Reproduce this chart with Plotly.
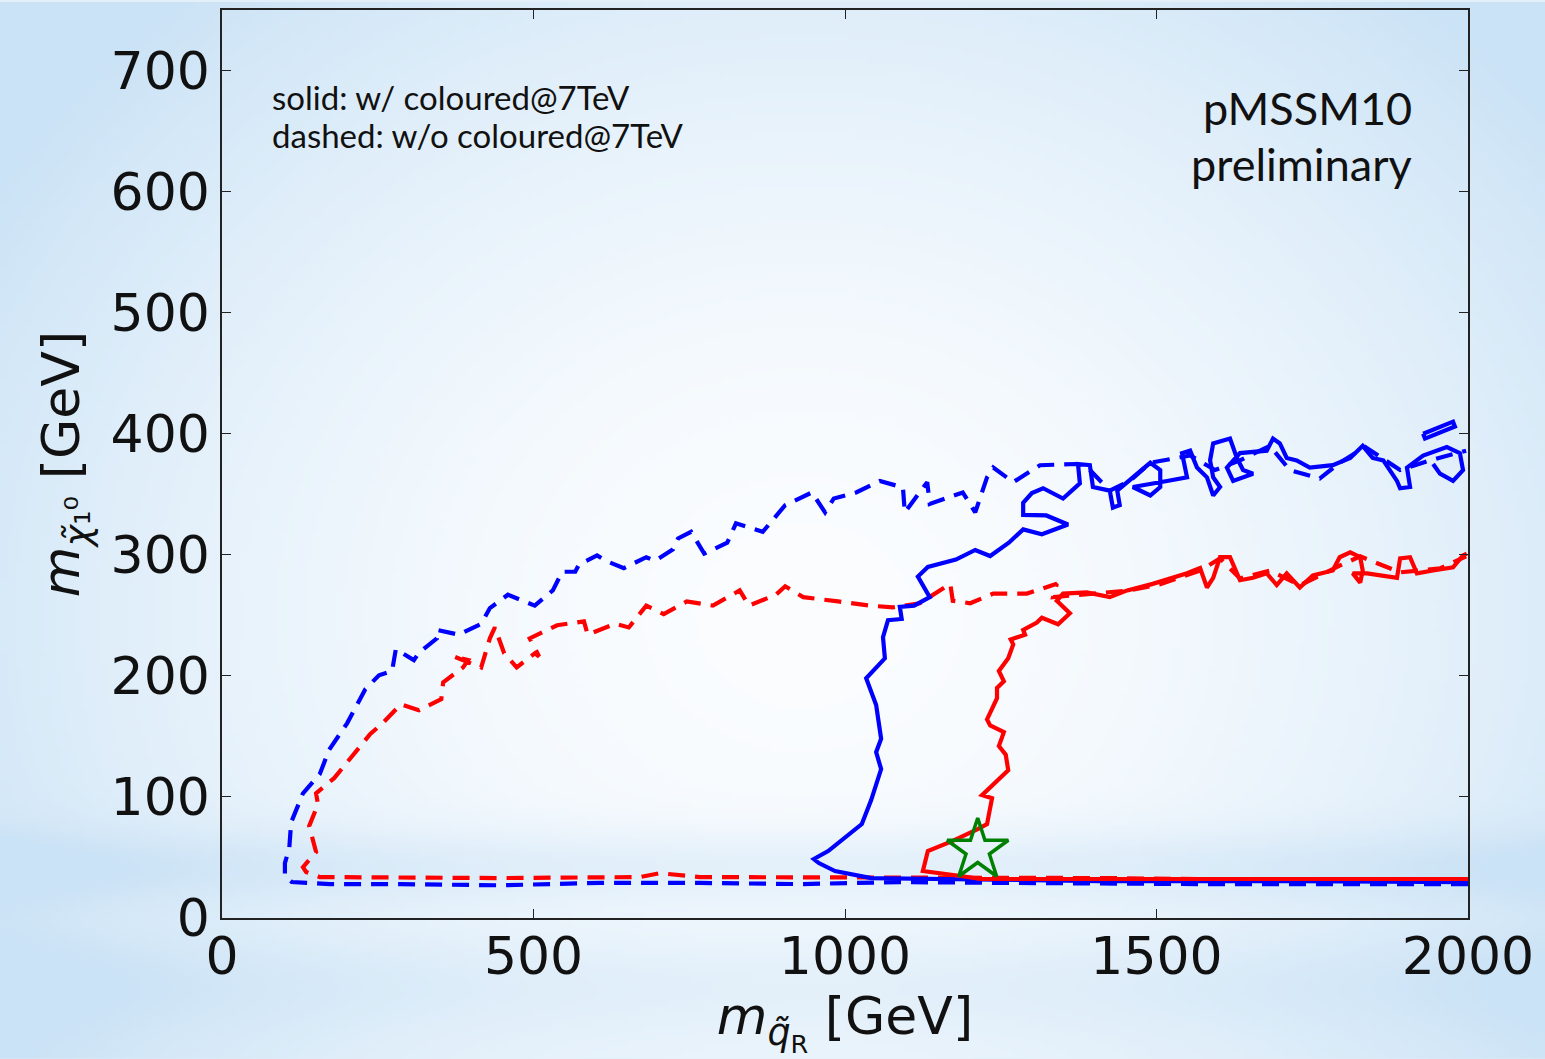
import base64, struct, zlib
import numpy as np
import plotly.graph_objects as go

# ---------------- data ----------------
blue_solid_x = [2000, 1730, 1409, 1249, 1120, 1042, 984, 958, 950, 973, 1027, 1042, 1058, 1050, 1058,
                1050, 1034, 1064, 1061, 1069, 1091, 1088, 1111, 1136, 1117, 1133, 1178, 1209, 1233, 1263,
                1286, 1316, 1358, 1323, 1286, 1286, 1300, 1318, 1350, 1377, 1374, 1393, 1398, 1425, 1430,
                1441, 1437, 1453, 1490, 1506, 1506, 1490, 1462, 1517, 1549, 1541, 1554, 1565, 1581, 1591,
                1602, 1591, 1586, 1591, 1618, 1629, 1639, 1655, 1623, 1613, 1634, 1677, 1687, 1698, 1709,
                1725, 1746, 1783, 1811, 1831, 1847, 1864, 1886, 1891, 1907, 1902, 1928, 1966, 1987, 1992,
                1976, 1955, 1944]
blue_solid_y = [29.7, 30.5, 30.5, 31.4, 32.2, 33, 38.8, 45.4, 48.7, 55.3, 77.6, 97.4, 123, 137, 148,
                176, 198, 214.5, 232, 246, 247, 257, 258, 265, 282, 290, 296, 304, 299, 310,
                321, 317, 325, 332.5, 333, 343, 351, 355, 346.5, 359, 375, 374, 356, 353, 339,
                341, 353, 360, 376, 370, 356, 349, 356, 361, 364, 384, 386, 372, 364, 349,
                356, 364, 378, 392, 396, 380, 370, 367, 361, 372, 384, 386, 396, 392, 380,
                378, 372, 374, 380, 390, 380, 378, 361, 355, 356, 372, 382, 389, 384, 370,
                361, 367, 375]

blue_loop_x = [1928, 1976, 1979, 1931, 1928]
blue_loop_y = [400, 410, 406, 396, 400]

red_solid_x = [2000, 1730, 1409, 1217, 1186, 1125, 1133, 1172, 1213, 1228, 1236, 1220, 1262, 1258, 1247,
               1255, 1233, 1228, 1244, 1244, 1255, 1247, 1262, 1270, 1266, 1289, 1286, 1308, 1316, 1342,
               1361, 1340, 1350, 1388, 1425, 1453, 1494, 1549, 1570, 1581, 1591, 1602, 1618, 1634, 1655,
               1677, 1693, 1709, 1730, 1751, 1783, 1794, 1811, 1827, 1831, 1827, 1815, 1838, 1886, 1891,
               1907, 1918, 1944, 1976, 1992, 1998]
red_solid_y = [32.2, 32.2, 31.4, 32.2, 34.7, 38.8, 55.3, 63.5, 73.4, 77.6, 99, 101.5, 122, 135, 142,
               153.5, 159, 164, 181.5, 190, 195.5, 204, 214.5, 226, 230, 234, 238, 244, 248, 242.6,
               251.7, 262, 268, 269, 265, 270.6, 276, 284.7, 289, 273, 281, 298, 298, 279, 281,
               284.7, 275, 284.7, 273, 283, 287, 298, 302, 298, 287, 277, 284.7, 284.7, 281, 297,
               298, 284.7, 287, 289.6, 299.5, 301]

blue_dash_x = [2000, 1891, 1570, 1249, 1088, 928, 767, 607, 446, 286, 173, 112, 101, 101, 108,
               111, 130, 157, 172, 201, 230, 252, 273, 279, 308, 316, 345, 345, 380, 416,
               430, 459, 488, 502, 531, 546, 567, 573, 602, 616, 645, 681, 695, 724, 732,
               753, 774, 811, 825, 868, 904, 947, 968, 982, 1018, 1056, 1093, 1096, 1132, 1136,
               1189, 1209, 1228, 1238, 1270, 1313, 1372, 1393, 1425, 1457, 1490, 1554, 1594, 1634, 1682,
               1714, 1762, 1794, 1835, 1891, 1939, 1987, 1997]
blue_dash_y = [28, 28, 28, 29, 29.7, 28, 29, 29, 27, 28, 28, 29.7, 34.7, 45.4, 57.8,
               79, 103, 119, 139, 161, 189, 200.5, 204, 222, 213, 219, 231, 238, 234, 243,
               256, 267, 261.5, 258, 270.6, 286, 286, 292, 299.5, 295, 289, 298, 295, 304.5, 313.5,
               319, 301, 310, 326, 319, 341, 351.5, 335, 346.5, 351.5, 361, 355.6, 335, 360, 342,
               351.5, 335, 364, 372, 360, 374, 375, 370, 353, 361, 376, 382, 370, 378, 390,
               370, 363, 376, 389, 370, 378, 384, 386]

red_dash_x = [2000, 1730, 1409, 1088, 767, 703, 671, 446, 205, 157, 135, 130, 151, 140, 154,
              151, 180, 209, 238, 258, 287, 316, 352, 355, 387, 395, 372, 416, 430, 438,
              453, 473, 502, 509, 494, 538, 581, 587, 631, 653, 681, 709, 746, 788, 831,
              846, 889, 904, 933, 989, 1040, 1077, 1120, 1169, 1173, 1201, 1238, 1292, 1340, 1334,
              1393, 1457, 1506, 1570, 1602, 1634, 1682, 1730, 1794, 1827, 1891, 1955, 1997]
red_dash_y = [31.4, 31.4, 33, 33, 33.8, 37, 33.8, 33, 33, 33.8, 38, 42, 54.5, 76, 94,
              103, 115.5, 133.7, 152, 161, 176.6, 171.6, 180.7, 194.7, 207, 213, 216, 207, 231, 240,
              218.6, 207, 218.6, 216, 231, 241.8, 245, 234, 243, 240, 258, 251, 261.5, 258, 270.6,
              258, 267, 274, 265, 261.5, 258, 256.6, 260, 276, 262, 260, 268, 268, 276, 265,
              268, 270.6, 275.6, 287, 297, 280.5, 287, 274.8, 291, 298.7, 285.5, 288.8, 298.7]

best_fit_x = [1213]
best_fit_y = [56]

x_ticks = [0, 500, 1000, 1500, 2000]
y_ticks = [0, 100, 200, 300, 400, 500, 600, 700]

# ---------------- background gradient (slide backdrop) ----------------
W, H = 1545, 1059


def make_bg(w=309, h=212):
    yy, xx = np.mgrid[0:h, 0:w].astype(float)
    xn = xx / (w - 1)
    yn = yy / (h - 1)
    d = np.sqrt(((xn - 0.52) / 0.62) ** 2 + ((yn - 0.58) / 0.78) ** 2)
    t = np.clip(d, 0, 1) ** 1.8
    band = np.exp(-((yn - 0.82) / 0.035) ** 2) * 0.35
    band2 = np.exp(-((yn - 0.93) / 0.05) ** 2) * 0.25
    t = np.clip(t + band + band2, 0, 1)
    white = np.array([251, 253, 255], float)
    blue = np.array([203, 227, 246], float)
    img = white[None, None, :] * (1 - t[..., None]) + blue[None, None, :] * t[..., None]
    return img.astype(np.uint8)


def png_uri(arr):
    h, w, _ = arr.shape
    raw = b"".join(b"\x00" + arr[r].tobytes() for r in range(h))

    def chunk(tag, data):
        return (struct.pack(">I", len(data)) + tag + data +
                struct.pack(">I", zlib.crc32(tag + data) & 0xFFFFFFFF))

    png = (b"\x89PNG\r\n\x1a\n" +
           chunk(b"IHDR", struct.pack(">IIBBBBB", w, h, 8, 2, 0, 0, 0)) +
           chunk(b"IDAT", zlib.compress(raw, 9)) + chunk(b"IEND", b""))
    return "data:image/png;base64," + base64.b64encode(png).decode()


bg = png_uri(make_bg())

# ---------------- figure ----------------
L, R, T, B = 222, 77, 8, 141
pw, ph = W - L - R, H - T - B


def py(p):
    """pixel row -> paper y"""
    return 1 - (p - T) / ph


def px(p):
    return (p - L) / pw


fig = go.Figure()
lw = 4.2
dash = "17px,10px"
fig.add_trace(go.Scatter(x=blue_dash_x, y=blue_dash_y, mode="lines",
                         line=dict(color="#0000ff", width=lw, dash=dash), hoverinfo="skip"))
fig.add_trace(go.Scatter(x=red_dash_x, y=red_dash_y, mode="lines",
                         line=dict(color="#ff0000", width=lw, dash=dash), hoverinfo="skip"))
fig.add_trace(go.Scatter(x=blue_solid_x, y=blue_solid_y, mode="lines",
                         line=dict(color="#0000ff", width=lw), hoverinfo="skip"))
fig.add_trace(go.Scatter(x=blue_loop_x, y=blue_loop_y, mode="lines",
                         line=dict(color="#0000ff", width=lw), hoverinfo="skip"))
fig.add_trace(go.Scatter(x=red_solid_x, y=red_solid_y, mode="lines",
                         line=dict(color="#ff0000", width=lw), hoverinfo="skip"))
fig.add_trace(go.Scatter(x=best_fit_x, y=best_fit_y, mode="markers",
                         marker=dict(symbol="star-open", size=46, color="#008000",
                                     line=dict(color="#008000", width=3.5)), hoverinfo="skip"))

tickfont = dict(family="DejaVu Sans", size=52, color="#111111")
axis_common = dict(showline=True, linecolor="#222222", linewidth=1.5, mirror="ticks",
                   ticks="inside", ticklen=9, tickwidth=1.2, tickcolor="#222222",
                   showgrid=False, zeroline=False, tickfont=tickfont)

txt = dict(family="Lato", color="#111111")

fig.update_layout(
    width=W, height=H,
    margin=dict(l=L, r=R, t=T, b=B, pad=0),
    paper_bgcolor="#e3eff9", plot_bgcolor="rgba(0,0,0,0)",
    showlegend=False,
    xaxis=dict(range=[0, 2000], tickvals=x_ticks, ticktext=[str(v) for v in x_ticks],
               ticklabelstandoff=-8,
               title=dict(text="<i>m</i><sub><i>q̃</i><sub>R</sub></sub> [GeV]",
                          font=dict(family="DejaVu Sans", size=52, color="#111111"), standoff=12),
               **axis_common),
    yaxis=dict(range=[0, 750], tickvals=y_ticks, ticktext=[str(v) for v in y_ticks],
               title=dict(text="<i>m</i><sub><i>χ̃</i>₁⁰</sub> [GeV]",
                          font=dict(family="DejaVu Sans", size=52, color="#111111"), standoff=14),
               **axis_common),
    images=[dict(source=bg, xref="paper", yref="paper",
                 x=-L / pw, y=1 + T / ph, sizex=W / pw, sizey=H / ph,
                 xanchor="left", yanchor="top", sizing="stretch", layer="below")],
    annotations=[
        dict(text="solid: w/ coloured@7TeV", xref="paper", yref="paper",
             x=px(270), y=py(95), xanchor="left", yanchor="middle", showarrow=False,
             font=dict(size=33, **txt)),
        dict(text="dashed: w/o coloured@7TeV", xref="paper", yref="paper",
             x=px(270), y=py(133), xanchor="left", yanchor="middle", showarrow=False,
             font=dict(size=33, **txt)),
        dict(text="pMSSM10", xref="paper", yref="paper",
             x=px(1414), y=py(106), xanchor="right", yanchor="middle", showarrow=False,
             font=dict(size=45, **txt)),
        dict(text="preliminary", xref="paper", yref="paper",
             x=px(1414), y=py(162), xanchor="right", yanchor="middle", showarrow=False,
             font=dict(size=45, **txt)),
    ],
)

fig.write_html("out.html")
